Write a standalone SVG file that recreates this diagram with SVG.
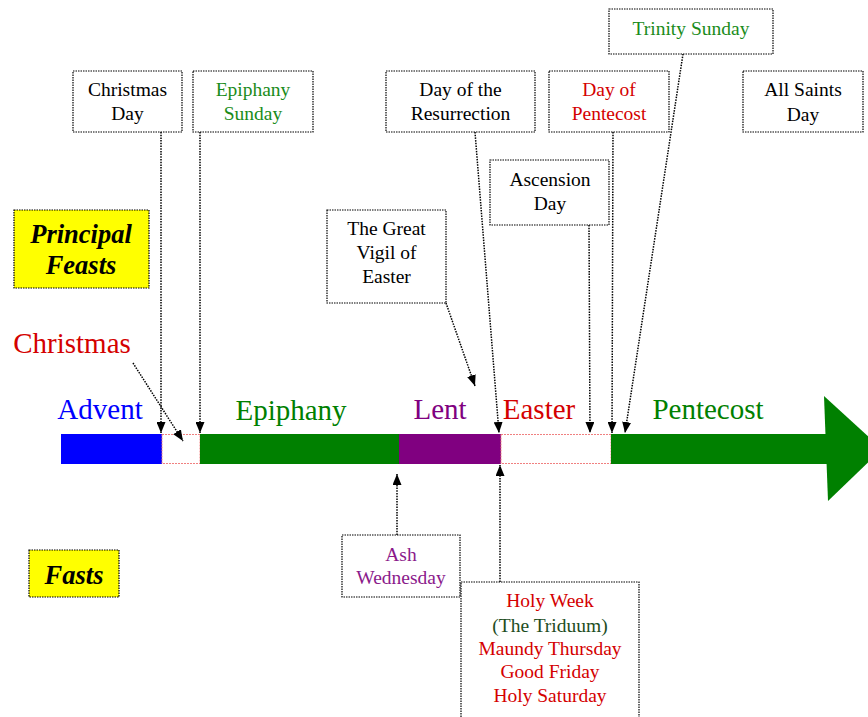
<svg xmlns="http://www.w3.org/2000/svg" width="868" height="717" viewBox="0 0 868 717">
<style>
text{font-family:"Liberation Serif","Times New Roman",serif;text-anchor:middle}
.box{fill:#fff;stroke:#000;stroke-width:1.2;stroke-dasharray:1.5 1}
.ybox{fill:#ffff00;stroke:#000;stroke-width:1.2;stroke-dasharray:1.5 1}
.t{font-size:19.5px;fill:#000}
.g{fill:#1a8c1a}
.r{fill:#d40000}
.p{fill:#8b1a8b}
.dg{fill:#1e4d1e}
.big{font-size:29px}
.bi{font-size:26.5px;font-weight:bold;font-style:italic;fill:#000}
.conn{fill:none;stroke:#000;stroke-width:1.5;stroke-dasharray:1.5 1.2;marker-end:url(#ah)}
.gap{fill:#fff;stroke:#f08080;stroke-width:1;stroke-dasharray:2 1}
</style>
<defs>
<marker id="ah" markerUnits="userSpaceOnUse" markerWidth="11" markerHeight="9" refX="11" refY="4.5" orient="auto">
<path d="M0,0 L11,4.5 L0,9 z" fill="#000"/>
</marker>
</defs>
<rect width="868" height="717" fill="#fff"/>

<g id="timeline">
<rect x="61" y="434" width="101" height="30" fill="#0000ff"/>
<rect class="gap" x="162" y="434.5" width="38" height="29"/>
<rect x="200" y="434" width="199" height="30" fill="#008000"/>
<rect x="399" y="434" width="102" height="30" fill="#800080"/>
<rect class="gap" x="501" y="434.5" width="110" height="29"/>
<rect x="611" y="434" width="216" height="30" fill="#008000"/>
<polygon points="824,396 882,449 828,501" fill="#008000"/>
</g>

<g id="season-labels">
<text class="big" x="100" y="419" fill="#0000ff">Advent</text>
<text class="big" x="72" y="353" fill="#d40000">Christmas</text>
<text class="big" x="291" y="420" fill="#008000">Epiphany</text>
<text class="big" x="440" y="419" fill="#800080">Lent</text>
<text class="big" x="539" y="419" fill="#d40000">Easter</text>
<text class="big" x="708" y="419" fill="#008000">Pentecost</text>
</g>

<g id="principal-feasts">
<rect class="ybox" x="14" y="210" width="135" height="78"/>
<text class="bi" x="81" y="243">Principal</text>
<text class="bi" x="81" y="274">Feasts</text>
</g>

<g id="fasts">
<rect class="ybox" x="29" y="550" width="90" height="47"/>
<text class="bi" x="74" y="584">Fasts</text>
</g>

<g id="christmas-day">
<rect class="box" x="73" y="71" width="109" height="61"/>
<text class="t" x="127.5" y="96">Christmas</text>
<text class="t" x="127.5" y="120">Day</text>
</g>

<g id="epiphany-sunday">
<rect class="box" x="193" y="71" width="120" height="61"/>
<text class="t g" x="253" y="96">Epiphany</text>
<text class="t g" x="253" y="120">Sunday</text>
</g>

<g id="resurrection">
<rect class="box" x="386" y="71" width="149" height="61"/>
<text class="t" x="460.5" y="96">Day of the</text>
<text class="t" x="460.5" y="120">Resurrection</text>
</g>

<g id="pentecost-day">
<rect class="box" x="549" y="71" width="120" height="61"/>
<text class="t r" x="609" y="96">Day of</text>
<text class="t r" x="609" y="120">Pentecost</text>
</g>

<g id="trinity-sunday">
<rect class="box" x="609" y="9" width="164" height="45"/>
<text class="t g" x="691" y="35">Trinity Sunday</text>
</g>

<g id="all-saints">
<rect class="box" x="743" y="71" width="120" height="61"/>
<text class="t" x="803" y="96">All Saints</text>
<text class="t" x="803" y="121">Day</text>
</g>

<g id="ascension">
<rect class="box" x="490" y="160" width="119" height="65"/>
<text class="t" x="550" y="186">Ascension</text>
<text class="t" x="550" y="210">Day</text>
</g>

<g id="great-vigil">
<rect class="box" x="327" y="210" width="119" height="93"/>
<text class="t" x="386.5" y="235">The Great</text>
<text class="t" x="386.5" y="259">Vigil of</text>
<text class="t" x="386.5" y="283">Easter</text>
</g>

<g id="ash-wednesday">
<rect class="box" x="342" y="535" width="118" height="62"/>
<text class="t p" x="401" y="561">Ash</text>
<text class="t p" x="401" y="584">Wednesday</text>
</g>

<g id="holy-week">
<path d="M461,717 V582 H639 V717" fill="none" stroke="#000" stroke-width="1.2" stroke-dasharray="1.5 1"/>
<text class="t r" x="550" y="607">Holy Week</text>
<text class="t dg" x="550" y="632">(The Triduum)</text>
<text class="t r" x="550" y="655">Maundy Thursday</text>
<text class="t r" x="550" y="678">Good Friday</text>
<text class="t r" x="550" y="702">Holy Saturday</text>
</g>

<g id="connectors">
<line class="conn" x1="161" y1="132" x2="161" y2="433"/>
<line class="conn" x1="200" y1="132" x2="200" y2="433"/>
<line class="conn" x1="133" y1="363" x2="183" y2="441"/>
<line class="conn" x1="446" y1="303" x2="475" y2="386"/>
<line class="conn" x1="475" y1="132" x2="499" y2="433"/>
<line class="conn" x1="589" y1="225" x2="590" y2="433"/>
<line class="conn" x1="613" y1="132" x2="612" y2="433"/>
<line class="conn" x1="683" y1="54" x2="625" y2="433"/>
<line class="conn" x1="397" y1="535" x2="397" y2="474"/>
<line class="conn" x1="500" y1="582" x2="500" y2="465"/>
</g>
</svg>
